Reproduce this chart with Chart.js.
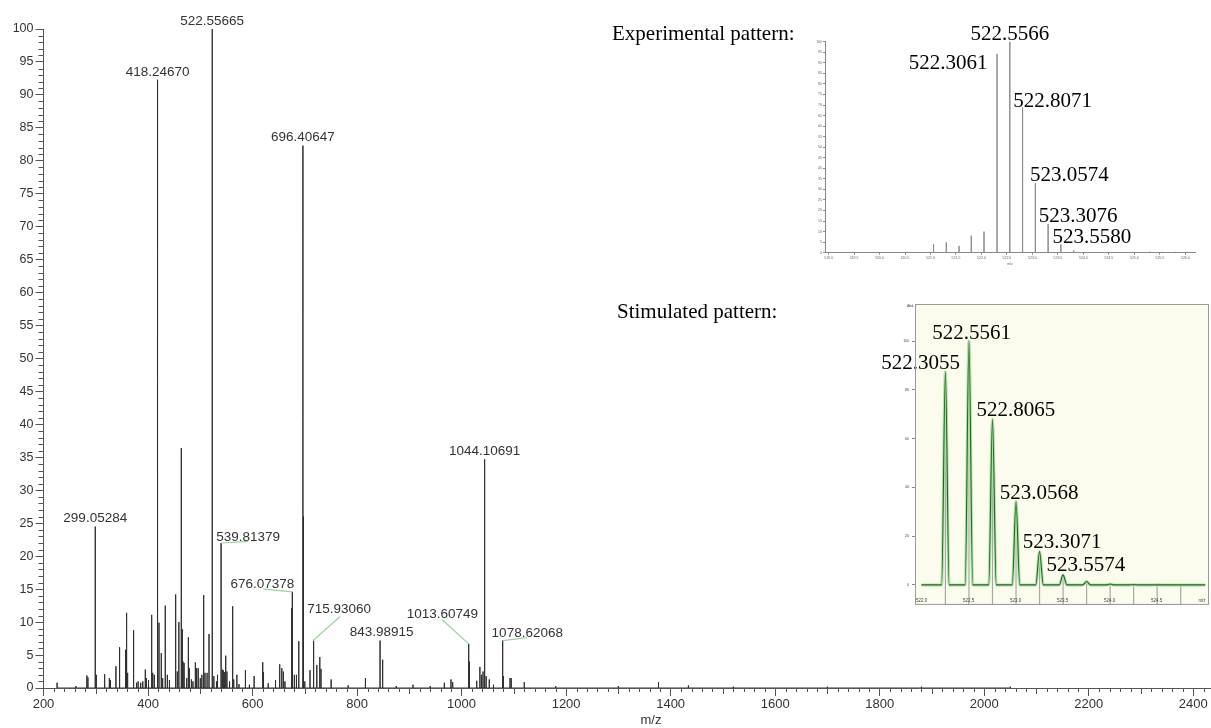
<!DOCTYPE html>
<html>
<head>
<meta charset="utf-8">
<script src="https://cdn.jsdelivr.net/npm/chart.js@4.4.0/dist/chart.umd.min.js"></script>
<style>
  body { margin: 0; background: #fff; width: 1211px; height: 728px; overflow: hidden; position: relative; }
  canvas { position: absolute; }
  #main { left: 0; top: 0; }
  #exp { left: 805px; top: 20px; }
  #sim { left: 870px; top: 298px; }
  .cap { position: absolute; font-family: "Liberation Serif", "Times New Roman", serif; font-size: 21px; line-height: 21px; color: #000; white-space: nowrap; }
</style>
</head>
<body>
<canvas id="main" width="1211" height="728"></canvas>
<canvas id="exp" width="400" height="248"></canvas>
<canvas id="sim" width="341" height="312"></canvas>
<div class="cap" style="left:612px; top:23px;">Experimental pattern:</div>
<div class="cap" style="left:617px; top:301px;">Stimulated pattern:</div>
<script>
// --- 全体スペクトル (m/z と相対強度) ---
const mainMz = [226, 262, 283, 285, 299.05284, 301, 317, 326, 328, 338.6, 345.6, 357, 359, 361, 372.4, 378, 381, 386, 390,
  394.8, 397, 401, 407, 409, 412, 418.24670, 421, 425.4, 428, 433, 437, 441, 452.9, 456, 459, 463.7, 465.6, 467, 469, 474,
  477.2, 479, 483, 486, 490.6, 493, 496, 500, 503, 506.5, 509, 513, 516.7, 522.55665, 523.2, 526, 531, 533, 539.81379, 542,
  544, 546, 548.7, 551, 556, 562, 564, 570, 574, 586.4, 594, 603, 619.5, 621, 630, 644, 652, 656, 659, 662, 675, 676.07378,
  680, 684, 688.5, 696.40647, 697.5, 700, 710, 715.93060, 717.5, 723, 728.7, 731, 750.4, 783, 816, 843.98915, 849, 875, 907,
  940, 967, 979.7, 983, 1013.60749, 1015, 1029, 1035, 1038, 1041, 1044.10691, 1047, 1053, 1061, 1078.62068, 1080, 1092.7,
  1095, 1120, 1180, 1300, 1376.8, 1434, 1520, 1700, 1880, 2050];
const mainInt = [0.8, 0.3, 1.9, 1.6, 24.5, 2.0, 2.1, 1.5, 1.2, 3.3, 6.2, 5.8, 11.4, 2.3, 8.75, 0.8, 1.0, 0.8, 1.0,
  2.8, 1.5, 1.2, 11.1, 2.3, 2.0, 92.3, 9.9, 5.3, 1.5, 12.5, 2.0, 1.2, 14.2, 2.5, 10.0, 36.4, 8.9, 4.0, 3.8, 1.5,
  7.7, 3.0, 1.3, 1.0, 3.9, 3.0, 3.0, 1.5, 2.0, 14.1, 2.3, 2.3, 8.2, 100, 13.4, 1.8, 1.0, 2.0, 22.0, 2.8,
  2.7, 2.4, 4.9, 2.5, 1.0, 12.4, 1.3, 2.0, 0.6, 2.7, 0.5, 1.8, 3.9, 2.4, 0.7, 1.2, 3.6, 3.0, 2.5, 1.0, 12.1, 14.6,
  2.0, 2.0, 7.1, 82.3, 26.0, 1.0, 2.7, 7.2, 5.7, 3.5, 4.7, 2.9, 1.3, 0.4, 1.5, 7.2, 4.3, 0.3, 0.5,
  0.3, 0.8, 1.3, 0.9, 6.7, 4.0, 1.1, 3.2, 2.0, 2.5, 34.7, 1.8, 1.3, 0.5, 7.2, 1.8, 1.5,
  1.5, 0.9, 0.3, 0.3, 0.9, 0.4, 0.2, 0.2, 0.2, 0.2];
const mainLabelMz = [299.05284, 418.24670, 522.55665, 539.81379, 676.07378, 696.40647, 715.93060, 843.98915,
  1013.60749, 1044.10691, 1078.62068];
const mainXTicks = [200, 400, 600, 800, 1000, 1200, 1400, 1600, 1800, 2000, 2200, 2400];
const mainYTicks = [0, 5, 10, 15, 20, 25, 30, 35, 40, 45, 50, 55, 60, 65, 70, 75, 80, 85, 90, 95, 100];

// --- 実測の同位体パターン ---
const expMz = [521.06, 521.31, 521.56, 521.80, 522.05, 522.3061, 522.5566, 522.8071, 523.0574, 523.3076, 523.5580,
  523.81, 524.06, 525.30, 525.55, 525.80];
const expInt = [4.1, 4.9, 3.2, 8.1, 10.0, 94.2, 100, 68.9, 32.9, 13.6, 3.9, 1.1, 0.3, 0.5, 0.4, 0.4];
const expLabelMz = [522.3061, 522.5566, 522.8071, 523.0574, 523.3076, 523.5580];
const expXTicks = [519.0, 519.5, 520.0, 520.5, 521.0, 521.5, 522.0, 522.5, 523.0, 523.5, 524.0, 524.5, 525.0, 525.5, 526.0];

// --- シミュレーションの同位体パターン ---
const simMz = [522.3055, 522.5561, 522.8065, 523.0568, 523.3071, 523.5574, 523.8077, 524.0580, 524.3083, 524.5586, 524.8089];
const simInt = [87.4, 100, 67.9, 34.2, 13.7, 4.1, 1.4, 0.4, 0.1, 0.03, 0.01];
const simLabelMz = [522.3055, 522.5561, 522.8065, 523.0568, 523.3071, 523.5574];
const simXTicks = [522.0, 522.5, 523.0, 523.5, 524.0, 524.5];
const simYTicks = [0, 20, 40, 60, 80, 100];

// ラベルの位置 (ピーク頂点からのずれ, px) と引き出し線の終点 (ラベル中心から)
const mainLabelPos = [[0, -9], [0, -8.5], [0, -9.3], [27, -7.3], [-30, -9], [0, -9], [26, -32], [1.5, -9],
  [-26.4, -30.8], [0, -9], [24.6, -8.2]];
const mainLeaders = [null, null, null, [0, 5.7], [1, 6.3], null, [1, 8], null, [0, 6.7], null, [0, 5.3]];
const expLabelPos = [[-49, 8], [0, -9], [30, -7], [34, -9], [30, -9], [31, -8.5]];
const simLabelPos = [[-24.7, -10], [2.7, -9.3], [23.4, -10], [23.2, -10], [22.7, -11], [22.8, -11]];

const SIM_YMIN = -8.2, SIM_YMAX = 115.2, SIM_HALF = 0.04;

// 棒スペクトルを折れ線の点列に変換
function sticks(mz, ints, base) {
  const pts = [];
  mz.forEach((m, i) => { pts.push({ x: m, y: base }, { x: m, y: ints[i] }, { x: m, y: base }); });
  return pts;
}
function profile(mz, ints, start, end) {
  const pts = [{ x: start, y: 0 }];
  mz.forEach((m, i) => { pts.push({ x: m - SIM_HALF, y: 0 }, { x: m, y: ints[i] }, { x: m + SIM_HALF, y: 0 }); });
  pts.push({ x: end, y: 0 });
  return pts;
}
function labelItems(labelMz, mz, ints, pos, leaders, digits) {
  return labelMz.map((m, i) => ({
    text: m.toFixed(digits), x: m, y: ints[mz.indexOf(m)],
    dx: pos[i][0], dy: pos[i][1], lead: leaders ? leaders[i] : null
  }));
}

// ピークラベルを描くプラグイン
const peakLabels = {
  id: 'peakLabels',
  afterDatasetsDraw(chart, args, opts) {
    const { ctx, scales: { x, y } } = chart;
    ctx.save();
    ctx.font = opts.font;
    ctx.fillStyle = opts.color;
    ctx.textAlign = 'center';
    ctx.textBaseline = 'alphabetic';
    opts.items.forEach(it => {
      const px = x.getPixelForValue(it.x), py = y.getPixelForValue(it.y);
      const cx = px + it.dx, cy = py + it.dy;
      if (it.lead) {
        ctx.strokeStyle = opts.leaderColor;
        ctx.lineWidth = 1.2;
        ctx.beginPath();
        ctx.moveTo(px, py);
        ctx.lineTo(cx + it.lead[0], cy + it.lead[1]);
        ctx.stroke();
      }
      ctx.fillText(it.text, cx, cy + opts.capHalf);
    });
    ctx.restore();
  }
};

// 主グラフの細かい目盛りと軸タイトル
const mainExtras = {
  id: 'mainExtras',
  afterDraw(chart) {
    const { ctx, chartArea: a, scales: { x, y } } = chart;
    ctx.save();
    ctx.strokeStyle = '#555';
    ctx.lineWidth = 1;
    ctx.beginPath();
    for (let v = 1; v < 100; v++) {
      if (v % 5 === 0) continue;
      const py = Math.round(y.getPixelForValue(v)) + 0.5;
      ctx.moveTo(a.left - 5, py); ctx.lineTo(a.left, py);
    }
    for (let v = 220; v <= 2420; v += 20) {
      if (v % 200 === 0) continue;
      const px = Math.round(x.getPixelForValue(v)) + 0.5;
      const len = v % 100 === 0 ? 6 : 4;
      ctx.moveTo(px, a.bottom); ctx.lineTo(px, a.bottom + len);
    }
    ctx.stroke();
    ctx.font = '13px "Liberation Sans", Arial, sans-serif';
    ctx.fillStyle = '#333';
    ctx.textAlign = 'center';
    ctx.textBaseline = 'middle';
    ctx.fillText('m/z', 651, 720);
    ctx.restore();
  }
};

new Chart(document.getElementById('main'), {
  type: 'line',
  data: {
    datasets: [{
      data: sticks(mainMz, mainInt, 0),
      borderColor: '#2e2e2e', borderWidth: 1, pointRadius: 0, tension: 0
    }]
  },
  options: {
    responsive: false, animation: false, devicePixelRatio: 1, parsing: false,
    layout: { padding: { top: 29, right: 0, left: 0, bottom: 0 } },
    plugins: {
      legend: { display: false }, tooltip: { enabled: false },
      peakLabels: {
        items: labelItems(mainLabelMz, mainMz, mainInt, mainLabelPos, mainLeaders, 5),
        font: '13.5px "Liberation Sans", Arial, sans-serif', color: '#333', leaderColor: '#9ad49a', capHalf: 4.8
      }
    },
    scales: {
      x: {
        type: 'linear', min: 200, max: 2434,
        afterFit(s) { s.height = 40; },
        afterBuildTicks(s) { s.ticks = mainXTicks.map(v => ({ value: v })); },
        ticks: { font: { family: 'Liberation Sans', size: 13 }, color: '#333', padding: 1, maxRotation: 0, autoSkip: false,
          callback: v => String(v) },
        grid: { drawOnChartArea: false, tickLength: 8, color: '#555' },
        border: { color: '#555' }
      },
      y: {
        min: 0, max: 100,
        afterFit(s) { s.width = 43.5; },
        afterBuildTicks(s) { s.ticks = mainYTicks.map(v => ({ value: v })); },
        ticks: { font: { family: 'Liberation Sans', size: 12.5 }, color: '#333', padding: 2, callback: v => String(v) },
        grid: { drawOnChartArea: false, tickLength: 8, color: '#555' },
        border: { color: '#555' }
      }
    }
  },
  plugins: [peakLabels, mainExtras]
});

// --- 実測パターンの挿入図 ---
const expExtras = {
  id: 'expExtras',
  afterDraw(chart) {
    const { ctx, chartArea: a } = chart;
    ctx.save();
    ctx.font = '3.5px "Liberation Sans", Arial, sans-serif';
    ctx.fillStyle = '#666';
    ctx.textAlign = 'center';
    ctx.fillText('m/z', (a.left + a.right) / 2, a.bottom + 12);
    ctx.restore();
  }
};

new Chart(document.getElementById('exp'), {
  type: 'line',
  data: {
    datasets: [{
      data: sticks(expMz, expInt, 0),
      borderColor: '#8a8a8a', borderWidth: 1, pointRadius: 0, tension: 0
    }]
  },
  options: {
    responsive: false, animation: false, devicePixelRatio: 1, parsing: false,
    layout: { padding: { top: 21.7, right: 10, left: 0, bottom: 0 } },
    plugins: {
      legend: { display: false }, tooltip: { enabled: false },
      peakLabels: {
        items: labelItems(expLabelMz, expMz, expInt, expLabelPos, null, 4),
        font: '21px "Liberation Serif", "Times New Roman", serif', color: '#000', capHalf: 7.1
      }
    },
    scales: {
      x: {
        type: 'linear', min: 518.93, max: 526.19,
        afterFit(s) { s.height = 15.3; },
        afterBuildTicks(s) { s.ticks = expXTicks.map(v => ({ value: v })); },
        ticks: { font: { family: 'Liberation Sans', size: 3.5 }, color: '#666', padding: 1, maxRotation: 0, autoSkip: false,
          callback: v => v.toFixed(1) },
        grid: { drawOnChartArea: false, tickLength: 2, color: '#888' },
        border: { color: '#888' }
      },
      y: {
        min: 0, max: 100,
        afterFit(s) { s.width = 20; },
        ticks: { stepSize: 5, font: { family: 'Liberation Sans', size: 3.5 }, color: '#666', padding: 1 },
        grid: { drawOnChartArea: false, tickLength: 2, color: '#888' },
        border: { color: '#888' }
      }
    }
  },
  plugins: [peakLabels, expExtras]
});

// --- シミュレーションパターンの挿入図 ---
const simPanel = {
  id: 'simPanel',
  beforeDraw(chart) {
    const { ctx, chartArea: a } = chart;
    ctx.save();
    ctx.fillStyle = '#fcfcee';
    ctx.fillRect(a.left, a.top, a.right - a.left, a.bottom - a.top);
    ctx.restore();
  },
  afterDraw(chart) {
    const { ctx, chartArea: a, scales: { x } } = chart;
    ctx.save();
    ctx.strokeStyle = '#999';
    ctx.lineWidth = 1;
    ctx.strokeRect(a.left + 0.5, a.top + 0.5, a.right - a.left - 1, a.bottom - a.top - 1);
    ctx.font = '3.5px "Liberation Sans", Arial, sans-serif';
    ctx.fillStyle = '#444';
    ctx.textAlign = 'left';
    ctx.fillText('Abd.', a.left - 8, a.top + 3);
    ctx.beginPath();
    ctx.rect(a.left, a.top, a.right - a.left, a.bottom - a.top);
    ctx.clip();
    ctx.font = '4.5px "Liberation Sans", Arial, sans-serif';
    ctx.textAlign = 'center';
    simXTicks.forEach(v => { ctx.fillText(v.toFixed(1), x.getPixelForValue(v) + 5, a.bottom - 3); });
    ctx.fillText('m/z', a.right - 7, a.bottom - 3);
    ctx.restore();
  }
};

const simProfile = profile(simMz, simInt, 522.05, 525.07);
new Chart(document.getElementById('sim'), {
  type: 'line',
  data: {
    datasets: [
      // order が大きいほど奥に描かれる
      { data: sticks(simMz, simInt, SIM_YMIN), borderColor: '#a8a8a8', borderWidth: 1.2, pointRadius: 0, tension: 0, order: 3 },
      { data: simProfile, borderColor: '#b2e0ac', borderWidth: 3, pointRadius: 0, cubicInterpolationMode: 'monotone', order: 2 },
      { data: simProfile, borderColor: '#1f6a1f', borderWidth: 1.1, pointRadius: 0, cubicInterpolationMode: 'monotone', order: 1 }
    ]
  },
  options: {
    responsive: false, animation: false, devicePixelRatio: 1, parsing: false,
    layout: { padding: { top: 6, right: 2, left: 25, bottom: 5 } },
    plugins: {
      legend: { display: false }, tooltip: { enabled: false },
      peakLabels: {
        items: labelItems(simLabelMz, simMz, simInt, simLabelPos, null, 4),
        font: '21px "Liberation Serif", "Times New Roman", serif', color: '#000', capHalf: 7.1
      }
    },
    scales: {
      x: { type: 'linear', min: 521.982, max: 525.11, display: false },
      y: {
        min: SIM_YMIN, max: SIM_YMAX,
        afterFit(s) { s.width = 20; },
        afterBuildTicks(s) { s.ticks = simYTicks.map(v => ({ value: v })); },
        ticks: { font: { family: 'Liberation Sans', size: 3.5 }, color: '#444', padding: 3 },
        grid: { drawOnChartArea: false, tickLength: 3, color: '#888' },
        border: { display: false }
      }
    }
  },
  plugins: [simPanel, peakLabels]
});
</script>
</body>
</html>
